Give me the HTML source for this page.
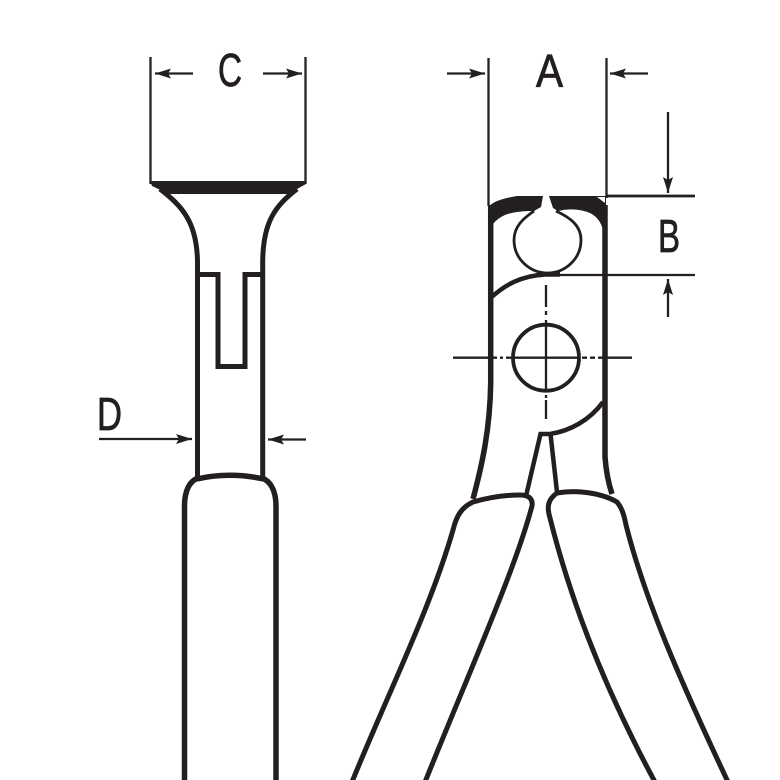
<!DOCTYPE html>
<html>
<head>
<meta charset="utf-8">
<style>
html,body{margin:0;padding:0;background:#fff;width:780px;height:780px;overflow:hidden}
svg{display:block}
text{font-family:"Liberation Sans",sans-serif;font-size:46px;fill:#231f20;stroke:#231f20;stroke-width:0.8;text-anchor:start}
</style>
</head>
<body>
<svg width="780" height="780" viewBox="0 0 780 780" xmlns="http://www.w3.org/2000/svg">
<rect width="780" height="780" fill="#fff"/>
<defs>
<marker id="ah" markerUnits="userSpaceOnUse" markerWidth="18" markerHeight="12" refX="16" refY="6" orient="auto-start-reverse">
<path d="M0,1 L16,6 L0,11 L3,6 Z" fill="#231f20"/>
</marker>
</defs>

<!-- Labels -->
<text x="218" y="86" textLength="24" lengthAdjust="spacingAndGlyphs">C</text>
<text x="536" y="87" textLength="27" lengthAdjust="spacingAndGlyphs">A</text>
<text x="658" y="252" textLength="22" lengthAdjust="spacingAndGlyphs">B</text>
<text x="97" y="430" textLength="25" lengthAdjust="spacingAndGlyphs">D</text>

<!-- Dimension lines -->
<g fill="none" stroke="#231f20" stroke-width="2.300">
<path d="M150.500,57V184M305.500,57V184"/>
<path d="M193,73.500H155" marker-end="url(#ah)"/>
<path d="M263,73.500H302" marker-end="url(#ah)"/>
<path d="M99,439H192" marker-end="url(#ah)"/>
<path d="M306,439.500H268" marker-end="url(#ah)"/>
<path d="M488.500,58V206M606.500,58V198"/>
<path d="M447,73.500H485" marker-end="url(#ah)"/>
<path d="M648,73.500H610" marker-end="url(#ah)"/>
<path d="M668,112V193" marker-end="url(#ah)"/>
<path d="M668,317V279" marker-end="url(#ah)"/>
<path d="M606,196H695" stroke-width="2.800"/>
<path d="M555,275H695"/>
</g>

<!-- Left view -->
<path d="M150,181H306V184L288,194H169L152,186Z" fill="#231f20"/>
<g fill="none" stroke="#231f20" stroke-width="5">
<path d="M160,189C182,206 197,222 197.500,262V477"/>
<path d="M297,189C275,206 263,222 262.700,262V477"/>
<path d="M197,274.500H218V366.500H245V274.500H263"/>
<path d="M197,479C218,474 242,474 263,479" stroke-width="5.500"/>
<path d="M184.500,780V506C184.500,490 190,481 198,478" stroke-width="5.500"/>
<path d="M276,780V506C276,490 270,481 262,478" stroke-width="5.500"/>
</g>

<!-- Right view head -->
<path d="M488,228V208Q492,200 517,196H543L541,207L534,211Q515,211 505,215Q494,220 491,228Z" fill="#231f20"/>
<path d="M549,196H606V230H603Q600,218 590,213Q575,207 558,211L553,208Z" fill="#231f20"/>
<path d="M597,197H605V203Z" fill="#fff"/>
<g fill="none" stroke="#231f20">
<path d="M534,211C524,218 514,226 514,240C514,259 530,273 547.500,273C565,273 581,259 581,240C581,226 571,218 556,211" stroke-width="2.800"/>
<path d="M490.500,298C505,285 520,276 545,274.500H560" stroke-width="4.500"/>
<path d="M490.700,205V383C490,430 482,465 473,499" stroke-width="5.500"/>
<path d="M605,205V457C606,470 608,482 612,494" stroke-width="5.500"/>
<circle cx="546" cy="357.700" r="33" stroke-width="3.800"/>
<path d="M603,402C590,420 570,431 550,434H540.500L526,496" stroke-width="4.500"/>
<path d="M550.500,434L557,492" stroke-width="4.500"/>
<!-- Center lines -->
<path d="M453,357.700H497M500,357.700H503M506,357.700H579M582,357.700H587M590,357.700H595M598,357.700H632" stroke-width="2.300"/>
<path d="M546,285V307M546,311V315M546,320V392M546,395V398M546,400V419" stroke-width="2.300"/>
</g>

<!-- Handles -->
<g fill="none" stroke="#231f20" stroke-width="5" stroke-linecap="butt" stroke-linejoin="round">
<path d="M352,782C385,700 430,610 453,530C456,518 460,508 473,502C490,497 505,495 520,495C530,495 533,500 532,506C515,570 470,670 425,782"/>
<path d="M655,782C600,680 568,590 550,518C547,508 547,500 557,493C575,490 600,492 617,502C622,508 624,515 626,525C645,600 680,680 728,782"/>
</g>
</svg>
</body>
</html>
